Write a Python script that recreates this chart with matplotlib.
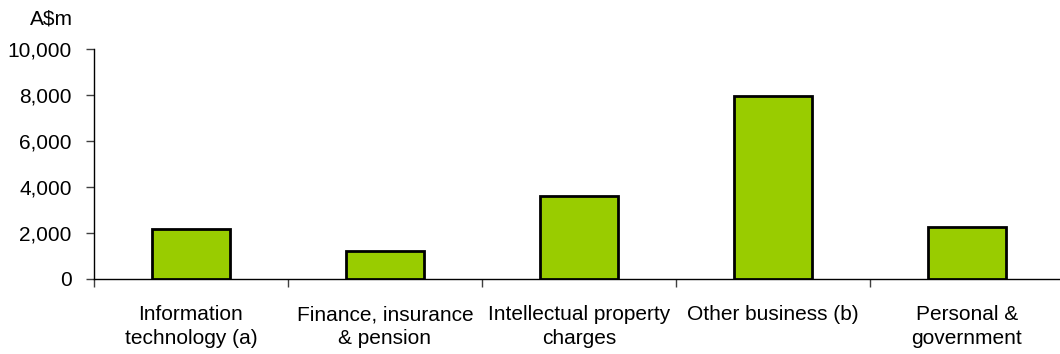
import numpy as np
import matplotlib.pyplot as plt

plt.rcParams['font.family'] = ['Liberation Sans', 'DejaVu Sans']

categories = ["Information\ntechnology (a)", "Finance, insurance\n& pension",
              "Intellectual property\ncharges", "Other business (b)",
              "Personal &\ngovernment"]
values = [2170, 1230, 3600, 7970, 2250]
yticks = [0, 2000, 4000, 6000, 8000, 10000]

fig = plt.figure(figsize=(10.6, 3.54), dpi=100)
# axis runs a little past the right edge of the picture, as in the original
ax = fig.add_axes([94 / 1060, 1 - 279 / 354, 970 / 1060, (279 - 49) / 354])

x = np.arange(len(categories))
ax.bar(x, values, width=0.40, color="#99CC00", edgecolor="black", linewidth=2, zorder=3)

ax.set_xlim(-0.5, len(categories) - 0.5)
ax.set_ylim(0, 10000)
ax.set_yticks(yticks)
ax.set_yticklabels([f"{v:,}" for v in yticks], fontsize=15)
ax.set_xticks(x)
ax.set_xticklabels(categories, fontsize=15, linespacing=1.3)
ax.set_xticks(np.arange(-0.5, len(categories)), minor=True)
ax.tick_params(axis='x', which='major', length=0, pad=19)
ax.tick_params(axis='x', which='minor', length=6, direction='out', width=1, color='#404040')
ax.tick_params(axis='y', length=6, direction='out', width=1, color='#404040', pad=10)

for s in ['top', 'right']:
    ax.spines[s].set_visible(False)
for s in ['left', 'bottom']:
    ax.spines[s].set_linewidth(1)
    ax.spines[s].set_color('black')

fig.text(51 / 1060, 1 - 19 / 354, "A\\$m", fontsize=15, ha='center', va='center')

fig.savefig("out.png", dpi=100)
